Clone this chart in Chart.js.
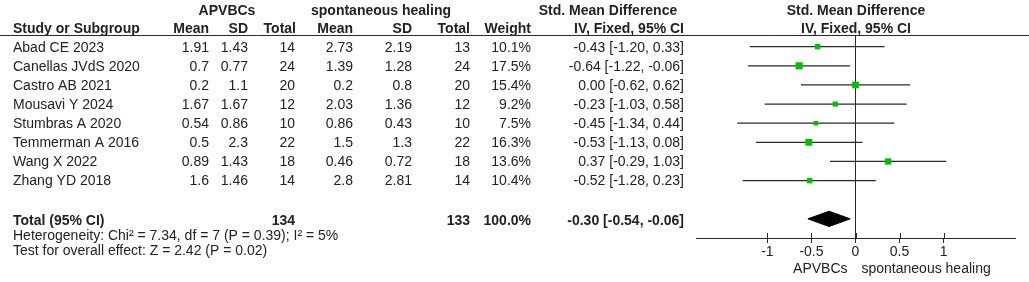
<!DOCTYPE html>
<html>
<head>
<meta charset="utf-8">
<script src="https://cdn.jsdelivr.net/npm/chart.js@4.4.0/dist/chart.umd.min.js"></script>
<style>
  html, body { margin: 0; padding: 0; background: #fff; }
  #wrap { width: 1029px; height: 282px; }
</style>
</head>
<body>
<div id="wrap"><canvas id="forest" width="1029" height="282"></canvas></div>
<script>
const studies = ['Abad CE 2023', 'Canellas JVdS 2020', 'Castro AB 2021', 'Mousavi Y 2024',
  'Stumbras A 2020', 'Temmerman A 2016', 'Wang X 2022', 'Zhang YD 2018'];
const meanE = [1.91, 0.7, 0.2, 1.67, 0.54, 0.5, 0.89, 1.6];
const sdE = [1.43, 0.77, 1.1, 1.67, 0.86, 2.3, 1.43, 1.46];
const totalE = [14, 24, 20, 12, 10, 22, 18, 14];
const meanC = [2.73, 1.39, 0.2, 2.03, 0.86, 1.5, 0.46, 2.8];
const sdC = [2.19, 1.28, 0.8, 1.36, 0.43, 1.3, 0.72, 2.81];
const totalC = [13, 24, 20, 12, 10, 22, 18, 14];
const weights = [10.1, 17.5, 15.4, 9.2, 7.5, 16.3, 13.6, 10.4];
const smd = [-0.43, -0.64, 0.00, -0.23, -0.45, -0.53, 0.37, -0.52];
const ciLow = [-1.20, -1.22, -0.62, -1.03, -1.34, -1.13, -0.29, -1.28];
const ciHigh = [0.33, -0.06, 0.62, 0.58, 0.44, 0.08, 1.03, 0.23];
const pooled = { smd: -0.30, low: -0.54, high: -0.06 };
const totalRow = { e: 134, c: 133, weight: 100.0 };
const xTicks = [-1, -0.5, 0, 0.5, 1];
const TOTAL_IDX = 9;

const FONT = '"Liberation Sans", Arial, sans-serif';
const TXT = '#222';
const LINE = '#2a2a2a';

const ci = (v, lo, hi) => v.toFixed(2) + ' [' + lo.toFixed(2) + ', ' + hi.toFixed(2) + ']';

// tabelle links + beschriftungen
const tablePlugin = {
  id: 'tablePlugin',
  afterDraw(chart) {
    const c = chart.ctx;
    const ys = chart.scales.y;
    const xs = chart.scales.x;
    const area = chart.chartArea;
    const text = (s, x, y, align, bold) => {
      c.font = (bold ? 'bold ' : '') + '14px ' + FONT;
      c.textAlign = align;
      c.fillText(s, x, y);
    };
    c.save();
    c.fillStyle = TXT;
    c.textBaseline = 'middle';

    // kopfzeilen
    const h1 = 11, h2 = 29;
    text('APVBCs', 227, h1, 'center', true);
    text('spontaneous healing', 381, h1, 'center', true);
    text('Std. Mean Difference', 608, h1, 'center', true);
    text('Std. Mean Difference', 856, h1, 'center', true);
    text('Study or Subgroup', 13, h2, 'left', true);
    text('Mean', 209, h2, 'right', true);
    text('SD', 248, h2, 'right', true);
    text('Total', 296, h2, 'right', true);
    text('Mean', 353, h2, 'right', true);
    text('SD', 412, h2, 'right', true);
    text('Total', 470, h2, 'right', true);
    text('Weight', 531, h2, 'right', true);
    text('IV, Fixed, 95% CI', 684, h2, 'right', true);
    text('IV, Fixed, 95% CI', 856, h2, 'center', true);

    // studien
    studies.forEach((s, i) => {
      const y = ys.getPixelForValue(i) + 1;
      text(s, 13, y, 'left');
      text(String(meanE[i]), 209, y, 'right');
      text(String(sdE[i]), 248, y, 'right');
      text(String(totalE[i]), 295, y, 'right');
      text(String(meanC[i]), 353, y, 'right');
      text(String(sdC[i]), 412, y, 'right');
      text(String(totalC[i]), 470, y, 'right');
      text(weights[i].toFixed(1) + '%', 531, y, 'right');
      text(ci(smd[i], ciLow[i], ciHigh[i]), 684, y, 'right');
    });

    // gesamt
    const yt = ys.getPixelForValue(TOTAL_IDX) + 2;
    text('Total (95% CI)', 13, yt, 'left', true);
    text(String(totalRow.e), 295, yt, 'right', true);
    text(String(totalRow.c), 470, yt, 'right', true);
    text(totalRow.weight.toFixed(1) + '%', 531, yt, 'right', true);
    text(ci(pooled.smd, pooled.low, pooled.high), 684, yt, 'right', true);
    text('Heterogeneity: Chi\u00B2 = 7.34, df = 7 (P = 0.39); I\u00B2 = 5%', 13, 236, 'left');
    text('Test for overall effect: Z = 2.42 (P = 0.02)', 13, 251, 'left');

    // seitenbeschriftung unter der achse
    const x0 = xs.getPixelForValue(0);
    text('APVBCs', x0 - 8, 269, 'right');
    text('spontaneous healing', x0 + 6, 269, 'left');

    // linie unter dem kopf
    c.strokeStyle = LINE;
    c.lineWidth = 1;
    c.beginPath();
    c.moveTo(0, area.top + 0.5);
    c.lineTo(chart.width, area.top + 0.5);
    c.stroke();

    // ticks oberhalb der achse
    xTicks.forEach(v => {
      const px = Math.round(xs.getPixelForValue(v)) + 0.5;
      c.beginPath();
      c.moveTo(px, area.bottom - 5);
      c.lineTo(px, area.bottom);
      c.stroke();
    });
    c.restore();
  }
};

const squares = {
  data: smd.map((v, i) => ({ x: v, y: i })),
  pointStyle: 'rect',
  pointRadius: weights.map(w => 1.7 * Math.sqrt(w) / Math.SQRT2),
  backgroundColor: '#00c000',
  borderWidth: 0,
  showLine: false
};

const ciLines = studies.map((s, i) => ({
  data: [{ x: ciLow[i], y: i }, { x: ciHigh[i], y: i }],
  showLine: true,
  borderColor: LINE,
  borderWidth: 1.3,
  pointRadius: 0
}));

const diamondTop = {
  data: [{ x: pooled.low, y: TOTAL_IDX }, { x: pooled.smd, y: TOTAL_IDX - 0.4 }, { x: pooled.high, y: TOTAL_IDX }],
  showLine: true, borderColor: '#000', borderWidth: 1, pointRadius: 0, fill: false
};
const diamondBottom = {
  data: [{ x: pooled.low, y: TOTAL_IDX }, { x: pooled.smd, y: TOTAL_IDX + 0.4 }, { x: pooled.high, y: TOTAL_IDX }],
  showLine: true, borderColor: '#000', borderWidth: 1, pointRadius: 0,
  fill: '-1', backgroundColor: '#000'
};

new Chart(document.getElementById('forest'), {
  type: 'scatter',
  data: { datasets: [squares, ...ciLines, diamondTop, diamondBottom] },
  plugins: [tablePlugin],
  options: {
    responsive: false,
    animation: false,
    devicePixelRatio: 1,
    layout: { padding: { left: 696, right: 14, top: 35, bottom: 0 } },
    plugins: { legend: { display: false }, tooltip: { enabled: false } },
    scales: {
      x: {
        type: 'linear',
        min: -1.81,
        max: 1.81,
        afterBuildTicks: s => { s.ticks = xTicks.map(v => ({ value: v })); },
        afterFit: s => { s.height = 44; },
        grid: {
          drawOnChartArea: true,
          color: c => (c.tick && c.tick.value === 0 ? LINE : 'rgba(0,0,0,0)'),
          tickColor: LINE,
          tickLength: 5,
          lineWidth: 1
        },
        border: { color: LINE, width: 1 },
        ticks: {
          font: { family: FONT, size: 14 },
          color: TXT,
          padding: 1,
          autoSkip: false,
          maxRotation: 0,
          callback: v => String(v)
        }
      },
      y: { display: false, reverse: true, min: -0.61, max: 10 }
    }
  }
});
</script>
</body>
</html>
